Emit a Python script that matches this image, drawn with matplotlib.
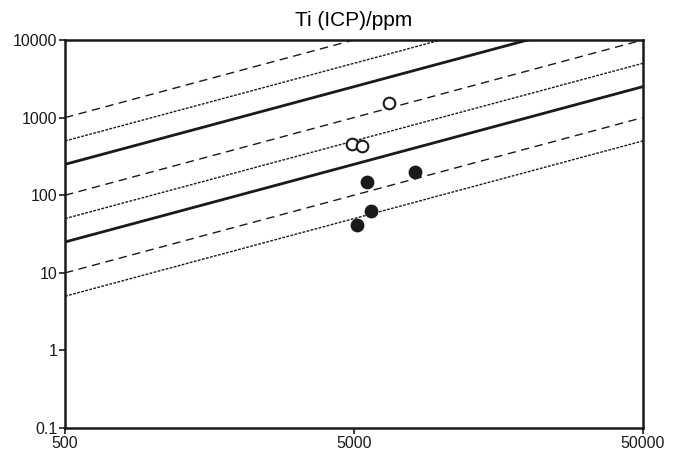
import numpy as np
import matplotlib.pyplot as plt
from matplotlib.ticker import FixedLocator, NullLocator

plt.rcParams['font.family'] = ['Liberation Sans', 'DejaVu Sans']

# ratios y/x for the reference lines
solid_ratios = [0.5, 0.05]
long_dash_ratios = [2, 0.2, 0.02]
fine_dash_ratios = [1, 0.1, 0.01]

# samples
open_x = [4920, 5330, 6600]
open_y = [460, 436, 1560]
filled_x = [5540, 8130, 5720, 5120]
filled_y = [147, 198, 62, 41]

x_ticks = [500, 5000, 50000]
y_ticks = [0.1, 1, 10, 100, 1000, 10000]

fig = plt.figure(figsize=(6.78, 4.54), dpi=100)
ax = fig.add_axes([0.096, 0.057, 0.852, 0.855])

xx = np.array([500, 50000])
for r in solid_ratios:
    ax.plot(xx, r * xx, color='#1a1a1a', lw=2.0, solid_capstyle='butt')
for r in long_dash_ratios:
    ax.plot(xx, r * xx, color='#1a1a1a', lw=1.0, dashes=(6, 4))
for r in fine_dash_ratios:
    ax.plot(xx, r * xx, color='#1a1a1a', lw=1.0, dashes=(2, 1))

ax.scatter(open_x, open_y, s=70, facecolors='white', edgecolors='#1a1a1a', linewidths=1.5, zorder=5)
ax.scatter(filled_x, filled_y, s=80, color='#1a1a1a', zorder=5)

ax.set_xscale('log')
ax.set_yscale('log')
ax.set_xlim(500, 50000)
ax.set_ylim(0.1, 10000)
ax.xaxis.set_major_locator(FixedLocator(x_ticks))
ax.yaxis.set_major_locator(FixedLocator(y_ticks))
ax.xaxis.set_minor_locator(NullLocator())
ax.yaxis.set_minor_locator(NullLocator())
ax.set_xticklabels([str(t) for t in x_ticks])
ax.set_yticklabels(['0.1', '1', '10', '100', '1000', '10000'])
ax.tick_params(direction='out', length=4, width=1.2, labelsize=11.5, colors='#1a1a1a', pad=1.5)
for s in ax.spines.values():
    s.set_linewidth(1.8)
    s.set_color('#1a1a1a')

ax.set_title('Ti (ICP)/ppm', fontsize=15, pad=10)

fig.savefig('out.png', dpi=100)
